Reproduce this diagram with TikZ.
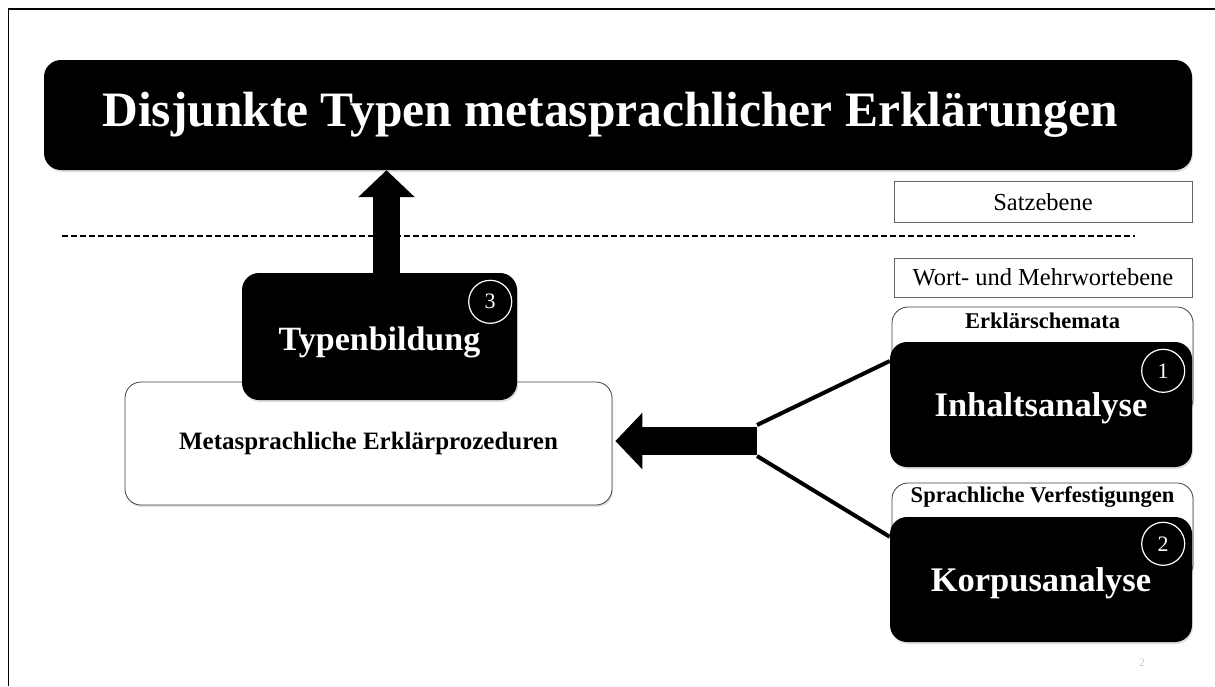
\documentclass[tikz,border=0pt]{standalone}
\usepackage{fontspec}
\setmainfont{Liberation Serif}
\usetikzlibrary{arrows.meta,calc,shadows}

\newcommand{\shiftdown}[2]{\raisebox{-#1}[\height][\depth]{#2}}

\begin{document}
\begin{tikzpicture}[x=1pt, y=-1pt]
    \useasboundingbox (0,0) rectangle (1215,686);
    \draw[line width=1.5pt] (8.5,686) -- (8.5,9) -- (1215,9);

    \tikzset{BoxShadow/.style={drop shadow={opacity=0.25, shadow xshift=1pt, shadow yshift=-2pt}}}
    \tikzset{BlackBox/.style={fill=black, rounded corners=17pt, text=white, BoxShadow}}
    \tikzset{WhiteBox/.style={draw=black!75, line width=0.8pt, fill=white, rounded corners=16pt, BoxShadow}}
    \tikzset{LevelBox/.style={draw=black!60, line width=0.8pt, fill=white, minimum width=298pt,
        font=\fontsize{24.5}{29}\selectfont}}
    \tikzset{StepNum/.style={circle, draw=white, line width=1.2pt, text=white, minimum size=43pt,
        inner sep=0pt, font=\fontsize{22}{26}\selectfont}}
    \tikzset{HeadLabel/.style={anchor=north, inner sep=0pt, font=\fontsize{22.5}{27}\selectfont\bfseries}}

    \node[BlackBox, minimum width=1148pt, minimum height=110pt,
          font=\fontsize{49.5}{59}\selectfont\bfseries] (title) at (618,115)
          {\hspace*{-16pt}Disjunkte Typen metasprachlicher Erklärungen};

    \node[LevelBox, minimum height=41pt] (satz) at (1043,202) {Satzebene};
    \node[LevelBox, minimum height=39pt] (wort) at (1043,277.5) {Wort- und Mehrwortebene};

    \draw[line width=1.5pt, dash pattern=on 6pt off 3pt] (62,236) -- (1135,236);

    % Erklaerprozeduren
    \node[WhiteBox, minimum width=487pt, minimum height=123pt,
          font=\fontsize{25}{30}\selectfont\bfseries] (meta) at (368.5,443.5)
          {Metasprachliche Erklärprozeduren};
    \node[BlackBox, minimum width=275pt, minimum height=127pt,
          font=\fontsize{34}{40}\selectfont\bfseries] (typen) at (379.5,336.5)
          {\shiftdown{6pt}{Typenbildung}};
    \node[StepNum] (num3) at ($(typen.north east)+(-27,29)$) {3};

    % Analysen
    \node[WhiteBox, minimum width=301pt, minimum height=108pt,
          label={[HeadLabel, yshift=-6pt]north:Erklärschemata}] (erkl) at (1042.5,361) {};
    \node[BlackBox, minimum width=302pt, minimum height=125pt,
          font=\fontsize{34.5}{41}\selectfont\bfseries] (inhalt) at (1041,404.5)
          {\shiftdown{4pt}{Inhaltsanalyse}};
    \node[StepNum] (num1) at ($(inhalt.north east)+(-29,29)$) {1};

    \node[WhiteBox, minimum width=301pt, minimum height=97pt,
          label={[HeadLabel, yshift=-4pt]north:Sprachliche Verfestigungen}] (sprach) at (1042.5,531.5) {};
    \node[BlackBox, minimum width=302pt, minimum height=125pt,
          font=\fontsize{34.5}{41}\selectfont\bfseries] (korpus) at (1041,579.5)
          {\shiftdown{4pt}{Korpusanalyse}};
    \node[StepNum] (num2) at ($(korpus.north east)+(-29,27)$) {2};

    \node[text=black!20, font=\fontsize{12}{14}\selectfont] (pagenum) at (1142,663) {2};

    % Pfeile
    \coordinate (upfoot) at (386.5,273);
    \coordinate (fork)   at (757,441);
    \coordinate (forkup) at (757,425);
    \coordinate (forkdn) at (757,456);

    \draw[line width=27pt, -{Triangle[width=55pt, length=27pt]}] (upfoot) -- (upfoot |- title.south);
    \draw[line width=28pt, -{Triangle[width=55pt, length=27pt]}] (fork) -- ($(fork -| meta.east)+(3,0)$);
    \draw[line width=4pt] (forkup) -- (erkl.center -| inhalt.west);
    \draw[line width=4pt] (forkdn) -- ([yshift=-20pt]korpus.north west);
\end{tikzpicture}
\end{document}
